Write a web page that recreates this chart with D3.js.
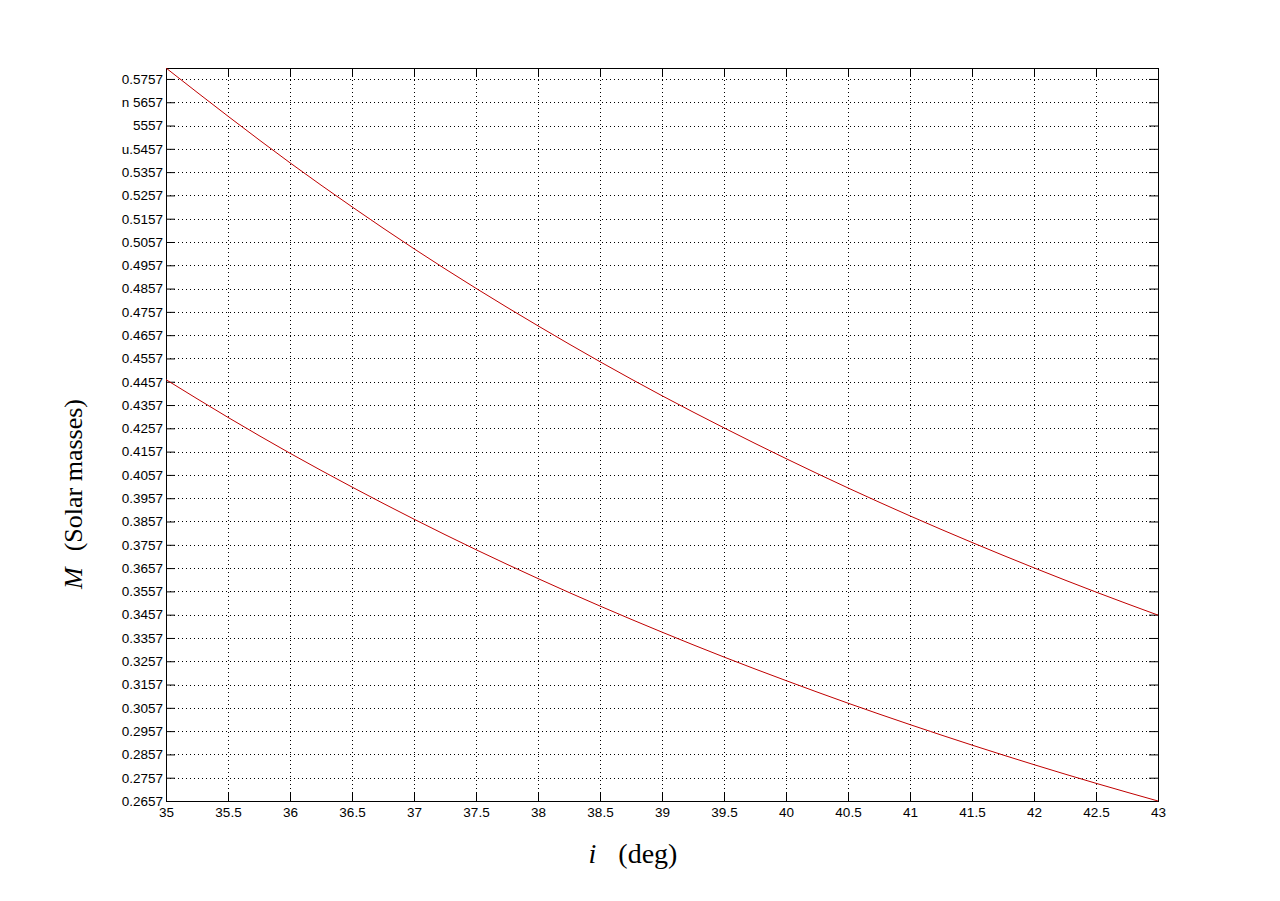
<!DOCTYPE html>
<meta charset="utf-8">
<script src="https://d3js.org/d3.v7.js"></script>
<style>
  body { margin: 0; background: #fff; }
</style>
<svg id="chart" width="1280" height="901"></svg>
<script>
  // inclination (deg)
  const incl = [35, 35.5, 36, 36.5, 37, 37.5, 38, 38.5, 39, 39.5, 40, 40.5, 41, 41.5, 42, 42.5, 43];
  // mass curves (solar masses)
  const massUpper = [0.5804, 0.5597, 0.5397, 0.5208, 0.5028, 0.4858, 0.4697, 0.4543, 0.4397, 0.4259,
                     0.4127, 0.4001, 0.3881, 0.3767, 0.3658, 0.3554, 0.3455];
  const massLower = [0.4466, 0.4304, 0.4150, 0.4005, 0.3867, 0.3736, 0.3612, 0.3494, 0.3382, 0.3275,
                     0.3174, 0.3077, 0.2985, 0.2897, 0.2813, 0.2733, 0.2657];
  const xTicks = [35, 35.5, 36, 36.5, 37, 37.5, 38, 38.5, 39, 39.5, 40, 40.5, 41, 41.5, 42, 42.5, 43];
  const yTicks = [0.2657, 0.2757, 0.2857, 0.2957, 0.3057, 0.3157, 0.3257, 0.3357, 0.3457, 0.3557,
                  0.3657, 0.3757, 0.3857, 0.3957, 0.4057, 0.4157, 0.4257, 0.4357, 0.4457, 0.4557,
                  0.4657, 0.4757, 0.4857, 0.4957, 0.5057, 0.5157, 0.5257, 0.5357, 0.5457, 0.5557,
                  0.5657, 0.5757];
  // a few tick labels are damaged in the original image
  const yLabelText = { "0.5657": "n 5657", "0.5557": "5557", "0.5457": "u.5457" };

  const pLeft = 166, pRight = 1158, pTop = 68, pBottom = 801;
  const svg = d3.select("#chart");

  const x = d3.scaleLinear().domain([35, 43]).range([pLeft, pRight]);
  const y = d3.scaleLinear().domain([0.2657, 0.5804]).range([pBottom, pTop]);

  // grid
  const grid = svg.append("g").attr("stroke", "#000").attr("stroke-width", 1)
    .attr("stroke-dasharray", "1,3");
  grid.selectAll(".gx").data(xTicks.slice(1, -1)).join("line")
    .attr("x1", d => Math.round(x(d)) + 0.5).attr("x2", d => Math.round(x(d)) + 0.5)
    .attr("y1", pTop).attr("y2", pBottom);
  grid.selectAll(".gy").data(yTicks.slice(1)).join("line")
    .attr("y1", d => Math.round(y(d)) + 0.5).attr("y2", d => Math.round(y(d)) + 0.5)
    .attr("x1", pLeft).attr("x2", pRight);

  // axes: ticks pointing inward, on all four sides
  const tl = 9;
  const fmt = d => { const s = d.toFixed(4); return yLabelText[s] || s; };
  svg.append("g").attr("transform", `translate(0,${pBottom})`)
    .call(d3.axisBottom(x).tickValues(xTicks).tickSizeInner(-tl).tickSizeOuter(0).tickPadding(6).tickFormat(d3.format("")));
  svg.append("g").attr("transform", `translate(0,${pTop})`)
    .call(d3.axisTop(x).tickValues(xTicks).tickSizeInner(-tl).tickSizeOuter(0).tickFormat(""));
  svg.append("g").attr("transform", `translate(${pLeft},0)`)
    .call(d3.axisLeft(y).tickValues(yTicks).tickSizeInner(-tl).tickSizeOuter(0).tickPadding(3).tickFormat(fmt));
  svg.append("g").attr("transform", `translate(${pRight},0)`)
    .call(d3.axisRight(y).tickValues(yTicks).tickSizeInner(-tl).tickSizeOuter(0).tickFormat(""));

  svg.selectAll(".tick line").attr("stroke", "#000");
  svg.selectAll(".domain").remove();
  svg.selectAll(".tick text")
    .attr("font-family", "'Liberation Sans', Arial, sans-serif")
    .attr("font-size", 13.5).attr("fill", "#000");

  // frame
  svg.append("rect").attr("x", pLeft + 0.5).attr("y", pTop + 0.5)
    .attr("width", pRight - pLeft).attr("height", pBottom - pTop)
    .attr("fill", "none").attr("stroke", "#000");

  // curves
  const line = d3.line().x((d, i) => x(incl[i])).y(d => y(d)).curve(d3.curveMonotoneX);
  svg.append("clipPath").attr("id", "clip").append("rect")
    .attr("x", pLeft).attr("y", pTop).attr("width", pRight - pLeft).attr("height", pBottom - pTop + 1);
  [massUpper, massLower].forEach(s => {
    svg.append("path").datum(s).attr("d", line)
      .attr("clip-path", "url(#clip)")
      .attr("fill", "none").attr("stroke", "#c00000").attr("stroke-width", 1);
  });

  // axis labels
  const xl = svg.append("text").attr("x", 633).attr("y", 863).attr("text-anchor", "middle")
    .attr("font-family", "'Liberation Serif', 'Times New Roman', serif").attr("font-size", 28);
  xl.append("tspan").attr("font-style", "italic").text("i");
  xl.append("tspan").attr("dx", 22).text("(deg)");

  const yl = svg.append("text").attr("transform", "translate(82,494) rotate(-90)")
    .attr("text-anchor", "middle")
    .attr("font-family", "'Liberation Serif', 'Times New Roman', serif").attr("font-size", 26);
  yl.append("tspan").attr("font-style", "italic").text("M");
  yl.append("tspan").attr("dx", 16).text("(Solar masses)");
</script>
